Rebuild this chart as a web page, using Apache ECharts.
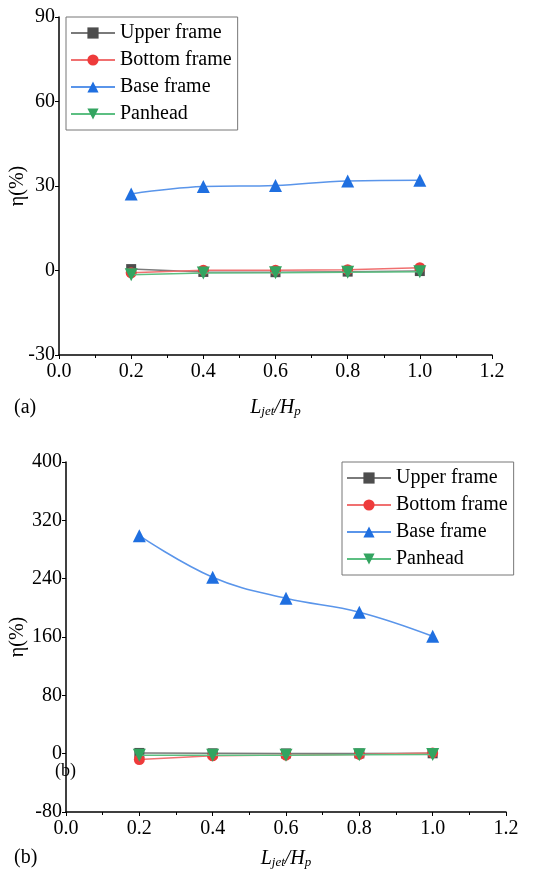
<!DOCTYPE html>
<html><head><meta charset="utf-8">
<script src="https://cdn.jsdelivr.net/npm/echarts@6/dist/echarts.min.js"></script>
<style>html,body{margin:0;padding:0;background:#fff}#c{width:533px;height:874px}</style>
</head><body><div id="c"></div>
<script>
const xValues = [0.2, 0.4, 0.6, 0.8, 1.0];
const seriesNames = ['Upper frame', 'Bottom frame', 'Base frame', 'Panhead'];
// Chart (a)
const aUpper  = [0.5, -0.5, -0.6, -0.4, -0.2];
const aBottom = [-0.8, 0.1, 0.1, 0.3, 1.0];
const aBase   = [27.2, 29.8, 30.2, 31.8, 32.0];
const aPan    = [-1.5, -0.9, -0.8, -0.6, -0.4];
// Chart (b)
const bUpper  = [1, 0.5, 0.3, 0.3, 0.5];
const bBottom = [-8, -3, -2, -1, 1];
const bBase   = [299, 242, 213, 194, 161];
const bPan    = [-2, -2, -2, -1.5, -1];
const aYTicks = [-30, 0, 30, 60, 90];
const bYTicks = [-80, 0, 80, 160, 240, 320, 400];

const FONT = '"Liberation Serif", "DejaVu Serif", serif';
const colors = {
  'Upper frame': {m: '#4d4d4d', l: '#7a7a7a', sym: 'rect', size: 10},
  'Bottom frame': {m: '#ee3b3b', l: '#f07070', sym: 'circle', size: 11},
  'Base frame': {m: '#1f6fe0', l: '#5a95ea', sym: 'triangle', size: 13},
  'Panhead': {m: '#33a460', l: '#5cbf82', sym: 'triangle', size: 13, rot: 180}
};
function pairs(vals){ return xValues.map((x,i)=>[x, vals[i]]); }
function mkSeries(name, vals, gi, smooth){
  const c = colors[name];
  return {
    name, type: 'line', xAxisIndex: gi, yAxisIndex: gi,
    data: pairs(vals), smooth: smooth ? 0.4 : false,
    symbol: c.sym, symbolSize: c.size, symbolRotate: c.rot || 0,
    itemStyle: {color: c.m}, lineStyle: {color: c.l, width: 1.5},
    z: name === 'Panhead' ? 5 : 3
  };
}
function xAxis(gi){
  return {type:'value', gridIndex: gi, min:0, max:1.2, interval:0.2,
    axisLine:{show:true, onZero:false, lineStyle:{color:'#000', width:1.5}},
    axisTick:{show:true, inside:false, length:4, lineStyle:{color:'#000'}},
    minorTick:{show:true, splitNumber:2, length:3, lineStyle:{color:'#000'}},
    splitLine:{show:false},
    axisLabel:{color:'#000', fontFamily:FONT, fontSize:20, margin:7, formatter:v=>v.toFixed(1)},
    name:'{i|L}{s|jet}{i|/H}{s|p}', nameLocation:'middle', nameMoveOverlap:false,
    nameGap: gi===0 ? 42 : 36,
    nameTextStyle:{color:'#000', fontFamily:FONT, rich:{
      i:{fontStyle:'italic', fontSize:20, fontFamily:FONT, color:'#000'},
      s:{fontStyle:'italic', fontSize:13, fontFamily:FONT, color:'#000', verticalAlign:'bottom', padding:[8,0,0,0]}}}
  };
}
function yAxis(gi, min, max, interval){
  return {type:'value', gridIndex: gi, min, max, interval,
    axisLine:{show:true, onZero:false, lineStyle:{color:'#000', width:1.5}},
    axisTick:{show:true, inside:false, length:4, lineStyle:{color:'#000'}},
    splitLine:{show:false},
    axisLabel:{color:'#000', fontFamily:FONT, fontSize:20, margin:4},
    name:'η(%)', nameLocation:'middle', nameRotate:90, nameMoveOverlap:false,
    nameGap: gi===0 ? 31 : 38,
    nameTextStyle:{color:'#000', fontFamily:FONT, fontSize:20}
  };
}
function legend(left, top){
  return {left, top, orient:'vertical', data:seriesNames, itemWidth:44, itemHeight:14, itemGap:7,
    padding:[6,6,6,4], borderColor:'#777', borderWidth:1,
    textStyle:{fontFamily:FONT, fontSize:20, color:'#000', lineHeight:20}};
}
const chart = echarts.init(document.getElementById('c'), null, {renderer:'canvas'});
chart.setOption({
  animation:false,
  backgroundColor:'#fff',
  grid:[
    {left:59, right:41, top:17, bottom:519, outerBoundsMode:'none', containLabel:false},
    {left:66, right:27, top:462, bottom:62, outerBoundsMode:'none', containLabel:false}
  ],
  xAxis:[xAxis(0), xAxis(1)],
  yAxis:[yAxis(0, aYTicks[0], aYTicks[aYTicks.length-1], 30), yAxis(1, bYTicks[0], bYTicks[bYTicks.length-1], 80)],
  legend:[legend(66, 17), legend(342, 462)],
  graphic:[
    {type:'text', left:14, top:398, style:{text:'(a)', font:'20px '+FONT, fill:'#000'}},
    {type:'text', left:14, top:848, style:{text:'(b)', font:'20px '+FONT, fill:'#000'}},
    {type:'text', left:55, top:762, style:{text:'(b)', font:'18px '+FONT, fill:'#000'}}
  ],
  series:[
    mkSeries('Upper frame', aUpper, 0, false),
    mkSeries('Bottom frame', aBottom, 0, false),
    mkSeries('Base frame', aBase, 0, true),
    mkSeries('Panhead', aPan, 0, false),
    mkSeries('Upper frame', bUpper, 1, false),
    mkSeries('Bottom frame', bBottom, 1, false),
    mkSeries('Base frame', bBase, 1, true),
    mkSeries('Panhead', bPan, 1, false)
  ]
});
</script></body></html>
